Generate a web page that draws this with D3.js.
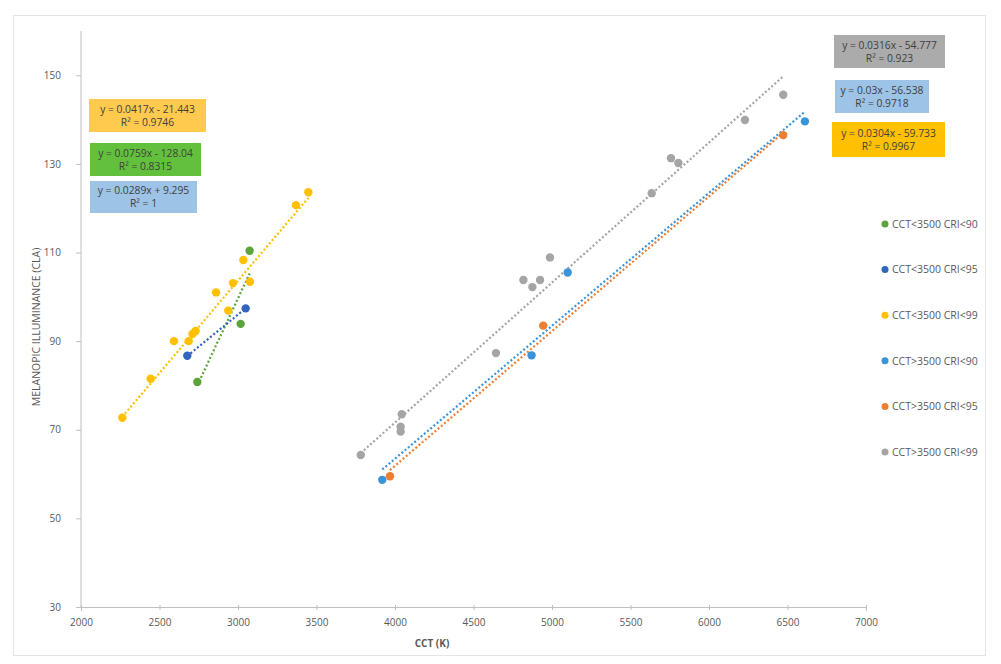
<!DOCTYPE html>
<html>
<head>
<meta charset="utf-8">
<script src="https://cdn.jsdelivr.net/npm/d3@7"></script>
<style>
  html, body { margin: 0; padding: 0; background: #fff; }
  svg text { font-family: "Open Sans", "Noto Sans", sans-serif; }
</style>
</head>
<body>
<svg id="chart" width="1001" height="664"></svg>
<script>
// Series (CCT in kelvin, melanopic illuminance in CLA)
const seriesNames = [
  "CCT<3500 CRI<90", "CCT<3500 CRI<95", "CCT<3500 CRI<99",
  "CCT>3500 CRI<90", "CCT>3500 CRI<95", "CCT>3500 CRI<99"
];
const seriesColors = ["#5BA33B", "#3165BE", "#FFC000", "#3A94DA", "#ED7D31", "#A5A5A5"];

const cctLow90 = [2741, 3017, 3074];
const claLow90 = [80.8, 93.9, 110.4];

const cctLow95 = [2677, 3049];
const claLow95 = [86.7, 97.4];

const cctLow99 = [2263, 2444, 2592, 2686, 2710, 2730, 2860, 2938, 2968, 3034, 3076, 3369, 3448];
const claLow99 = [72.7, 81.5, 90.0, 90.0, 91.6, 92.3, 101.0, 96.9, 103.1, 108.3, 103.4, 120.7, 123.6];

const cctHigh90 = [3919, 4870, 5100, 6611];
const claHigh90 = [58.7, 86.8, 105.5, 139.6];

const cctHigh95 = [3968, 4944, 6473];
const claHigh95 = [59.5, 93.5, 136.5];

const cctHigh99 = [3782, 4036, 4036, 4043, 4643, 4818, 4875, 4924, 4987, 5635, 5758, 5805, 6229, 6473];
const claHigh99 = [64.3, 69.6, 70.7, 73.5, 87.3, 103.8, 102.2, 103.8, 108.9, 123.4, 131.3, 130.2, 139.9, 145.6];

// Linear trendlines per series
const trendSlopes = [0.0759, 0.0289, 0.0417, 0.03, 0.0304, 0.0316];
const trendIntercepts = [-128.04, 9.295, -21.443, -56.538, -59.733, -54.777];
const trendEquations = [
  "y = 0.0759x - 128.04", "y = 0.0289x + 9.295", "y = 0.0417x - 21.443",
  "y = 0.03x - 56.538", "y = 0.0304x - 59.733", "y = 0.0316x - 54.777"
];
const trendR2 = ["R² = 0.8315", "R² = 1", "R² = 0.9746", "R² = 0.9718", "R² = 0.9967", "R² = 0.923"];
const boxColors = ["#62C03C", "#9DC3E6", "#FFCA4E", "#9DC3E6", "#FFC000", "#ABABAB"];

// Axis ticks
const xTicks = [2000, 2500, 3000, 3500, 4000, 4500, 5000, 5500, 6000, 6500, 7000];
const yTicks = [30, 50, 70, 90, 110, 130, 150];

const xs = [cctLow90, cctLow95, cctLow99, cctHigh90, cctHigh95, cctHigh99];
const ys = [claLow90, claLow95, claLow99, claHigh90, claHigh95, claHigh99];

const svg = d3.select("#chart");

// chart frame
svg.append("rect")
  .attr("x", 13.5).attr("y", 15.5).attr("width", 972).attr("height", 640)
  .attr("fill", "none").attr("stroke", "#E4E4E4").attr("stroke-width", 1);

const x = d3.scaleLinear().domain([2000, 7000]).range([81, 866]);
const y = d3.scaleLinear().domain([30, 160]).range([607, 31]);

const axisColor = "#BFBFBF";
const textColor = "#595959";

// x axis
const gx = svg.append("g").attr("transform", `translate(0,${y(30)})`)
  .call(d3.axisBottom(x).tickValues(xTicks).tickSize(4).tickPadding(8).tickFormat(d3.format("d")));
gx.select(".domain").attr("stroke", axisColor);
gx.selectAll(".tick line").attr("stroke", axisColor).attr("y1", -2).attr("y2", 3);
gx.selectAll(".tick text").attr("fill", textColor).attr("font-size", 10);

// y axis
const gy = svg.append("g").attr("transform", `translate(${x(2000)},0)`)
  .call(d3.axisLeft(y).tickValues(yTicks).tickSize(5).tickPadding(15).tickFormat(d3.format("d")));
gy.select(".domain").attr("stroke", axisColor).attr("d", `M0,${y(160)}V${y(30)}`);
gy.selectAll(".tick line").attr("stroke", axisColor);
gy.selectAll(".tick text").attr("fill", textColor).attr("font-size", 10);

// axis titles
svg.append("text")
  .attr("x", 432).attr("y", 647).attr("text-anchor", "middle")
  .attr("font-size", 10).attr("font-weight", "bold").attr("fill", textColor)
  .text("CCT (K)");
svg.append("text")
  .attr("transform", `translate(40,${(y(30) + y(160)) / 2 + 8}) rotate(-90)`)
  .attr("text-anchor", "middle")
  .attr("font-size", 10.5).attr("fill", textColor)
  .text("MELANOPIC ILLUMINANCE (CLA)");

// trendlines across each series' data range
seriesNames.forEach((name, i) => {
  const [x0, x1] = d3.extent(xs[i]);
  svg.append("line")
    .attr("x1", x(x0)).attr("y1", y(trendSlopes[i] * x0 + trendIntercepts[i]))
    .attr("x2", x(x1)).attr("y2", y(trendSlopes[i] * x1 + trendIntercepts[i]))
    .attr("stroke", seriesColors[i]).attr("stroke-width", 2.2)
    .attr("stroke-dasharray", "2,2.2");
});

// data points
seriesNames.forEach((name, i) => {
  svg.append("g").selectAll("circle")
    .data(xs[i].map((v, k) => [v, ys[i][k]]))
    .join("circle")
    .attr("cx", d => x(d[0])).attr("cy", d => y(d[1]))
    .attr("r", 4.2).attr("fill", seriesColors[i]);
});

// trendline equation labels
const boxLayout = [
  { x: 90, y: 143, w: 111, h: 33 },
  { x: 90, y: 181, w: 107, h: 32 },
  { x: 89, y: 99, w: 117, h: 33 },
  { x: 835, y: 80, w: 94, h: 33 },
  { x: 832, y: 122, w: 113, h: 35 },
  { x: 834, y: 35, w: 111, h: 33 }
];
boxLayout.forEach((b, i) => {
  const g = svg.append("g");
  g.append("rect").attr("x", b.x).attr("y", b.y).attr("width", b.w).attr("height", b.h)
    .attr("fill", boxColors[i]);
  g.append("text").attr("x", b.x + b.w / 2).attr("y", b.y + b.h / 2 - 3)
    .attr("text-anchor", "middle").attr("font-size", 10.3).attr("fill", "#404040")
    .text(trendEquations[i]);
  g.append("text").attr("x", b.x + b.w / 2).attr("y", b.y + b.h / 2 + 10)
    .attr("text-anchor", "middle").attr("font-size", 10.3).attr("fill", "#404040")
    .text(trendR2[i]);
});

// legend
const legend = svg.append("g").attr("transform", "translate(885,224)");
seriesNames.forEach((name, i) => {
  const row = legend.append("g").attr("transform", `translate(0,${i * 45.6})`);
  row.append("circle").attr("r", 3.5).attr("fill", seriesColors[i]);
  row.append("text").attr("x", 7).attr("y", 3.8).attr("font-size", 10.5).attr("fill", textColor)
    .text(name);
});
</script>
</body>
</html>
